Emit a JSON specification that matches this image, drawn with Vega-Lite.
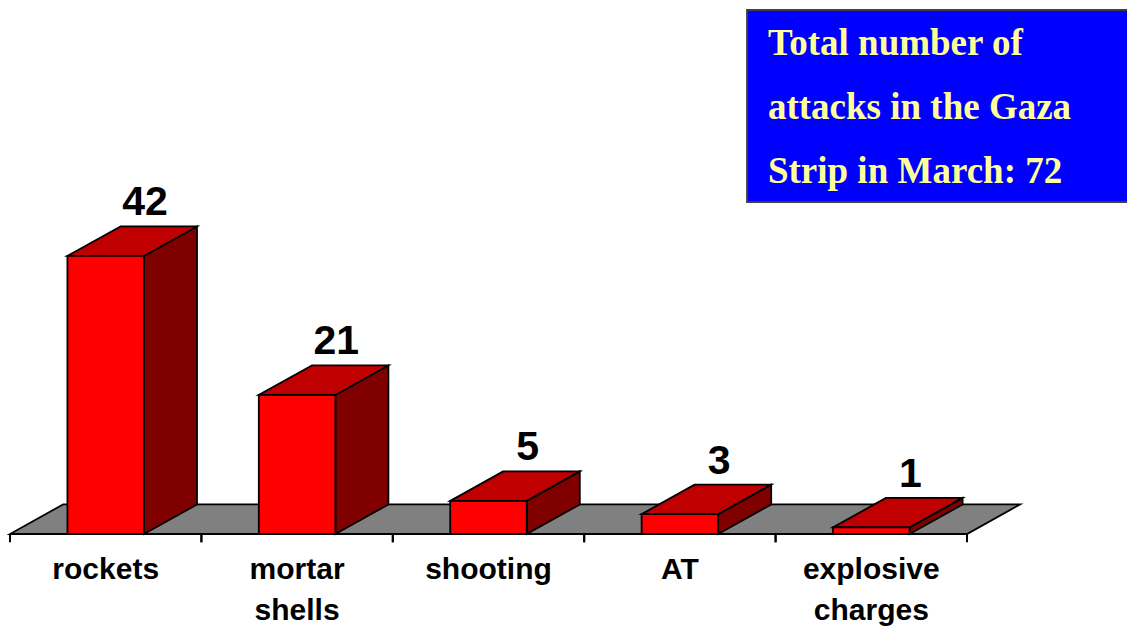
{
  "$schema": "https://vega.github.io/schema/vega-lite/v6.json",
  "width": 1117,
  "height": 534,
  "autosize": {"type": "none"},
  "padding": {"left": 10, "top": 0, "right": 0, "bottom": 96},
  "background": "white",
  "config": {"view": {"stroke": null}},
  "data": {
    "values": [
      {"category": "rockets", "value": 42},
      {"category": "mortar shells", "value": 21},
      {"category": "shooting", "value": 5},
      {"category": "AT", "value": 3},
      {"category": "explosive charges", "value": 1}
    ]
  },
  "layer": [
    {
      "transform": [
        {"aggregate": [{"op": "count", "as": "n"}]},
        {"calculate": "[0, 4.46]", "as": "fy"},
        {"calculate": "[0, 0.277]", "as": "fx"},
        {"calculate": "[datum.n, datum.n + 0.277]", "as": "fx2"},
        {"flatten": ["fy", "fx", "fx2"]}
      ],
      "mark": {"type": "area", "orient": "horizontal", "fill": "#808080", "stroke": "black", "strokeWidth": 1.8, "strokeJoin": "miter"},
      "encoding": {
        "y": {"field": "fy", "type": "quantitative", "scale": {"domain": [0, 80.66], "nice": false, "zero": false}, "axis": null},
        "x": {"field": "fx", "type": "quantitative", "scale": {"domain": [0, 5.836], "nice": false, "zero": false}, "axis": null},
        "x2": {"field": "fx2"}
      }
    },
    {
      "transform": [
        {"window": [{"op": "row_number", "as": "idx"}]},
        {"calculate": "[datum.idx - 1, datum.idx]", "as": "tk"},
        {"flatten": ["tk"]}
      ],
      "mark": {"type": "rule", "stroke": "black", "strokeWidth": 2},
      "encoding": {
        "x": {"field": "tk", "type": "quantitative", "scale": {"domain": [0, 5.836], "nice": false, "zero": false}, "axis": null},
        "y": {"datum": 0, "type": "quantitative", "scale": {"domain": [0, 80.66], "nice": false, "zero": false}, "axis": null},
        "y2": {"datum": -1.25}
      }
    },
    {
      "transform": [
        {"window": [{"op": "row_number", "as": "idx"}]},
        {"calculate": "[datum.idx - 0.3, datum.idx - 0.3 + 0.277]", "as": "sx"},
        {"calculate": "[0, 4.46]", "as": "sy"},
        {"calculate": "[datum.value, datum.value + 4.46]", "as": "sy2"},
        {"flatten": ["sx", "sy", "sy2"]}
      ],
      "mark": {"type": "area", "orient": "vertical", "fill": "#800000", "stroke": "black", "strokeWidth": 1.8},
      "encoding": {
        "x": {"field": "sx", "type": "quantitative", "scale": {"domain": [0, 5.836], "nice": false, "zero": false}, "axis": null},
        "y": {"field": "sy", "type": "quantitative", "scale": {"domain": [0, 80.66], "nice": false, "zero": false}, "axis": null},
        "y2": {"field": "sy2"},
        "detail": {"field": "category", "type": "nominal"}
      }
    },
    {
      "transform": [
        {"window": [{"op": "row_number", "as": "idx"}]},
        {"calculate": "[datum.value, datum.value + 4.46]", "as": "ty"},
        {"calculate": "[datum.idx - 0.7, datum.idx - 0.7 + 0.277]", "as": "tx"},
        {"calculate": "[datum.idx - 0.3, datum.idx - 0.3 + 0.277]", "as": "tx2"},
        {"flatten": ["ty", "tx", "tx2"]}
      ],
      "mark": {"type": "area", "orient": "horizontal", "fill": "#C00000", "stroke": "black", "strokeWidth": 1.8},
      "encoding": {
        "y": {"field": "ty", "type": "quantitative", "scale": {"domain": [0, 80.66], "nice": false, "zero": false}, "axis": null},
        "x": {"field": "tx", "type": "quantitative", "scale": {"domain": [0, 5.836], "nice": false, "zero": false}, "axis": null},
        "x2": {"field": "tx2"},
        "detail": {"field": "category", "type": "nominal"}
      }
    },
    {
      "transform": [
        {"window": [{"op": "row_number", "as": "idx"}]},
        {"calculate": "datum.idx - 0.7", "as": "xa"},
        {"calculate": "datum.idx - 0.3", "as": "xb"}
      ],
      "mark": {"type": "rect", "fill": "#FF0000", "stroke": "black", "strokeWidth": 1.8},
      "encoding": {
        "x": {"field": "xa", "type": "quantitative", "scale": {"domain": [0, 5.836], "nice": false, "zero": false}, "axis": null},
        "x2": {"field": "xb"},
        "y": {"field": "value", "type": "quantitative", "scale": {"domain": [0, 80.66], "nice": false, "zero": false}, "axis": null},
        "y2": {"datum": 0}
      }
    },
    {
      "transform": [
        {"window": [{"op": "row_number", "as": "idx"}]},
        {"calculate": "datum.idx - 0.295", "as": "lx"},
        {"calculate": "datum.value + 4.46", "as": "ly"}
      ],
      "mark": {"type": "text", "align": "center", "baseline": "alphabetic", "dy": -11, "font": "Liberation Sans", "fontWeight": "bold", "fontSize": 41, "fill": "black"},
      "encoding": {
        "x": {"field": "lx", "type": "quantitative", "scale": {"domain": [0, 5.836], "nice": false, "zero": false}, "axis": null},
        "y": {"field": "ly", "type": "quantitative", "scale": {"domain": [0, 80.66], "nice": false, "zero": false}, "axis": null},
        "text": {"field": "value", "type": "quantitative"}
      }
    },
    {
      "transform": [
        {"window": [{"op": "row_number", "as": "idx"}]},
        {"calculate": "datum.idx - 0.5", "as": "cx"},
        {"calculate": "split(datum.category, ' ')", "as": "lines"}
      ],
      "mark": {"type": "text", "align": "center", "baseline": "alphabetic", "dy": 45, "lineHeight": 41, "font": "Liberation Sans", "fontWeight": "bold", "fontSize": 30, "fill": "black"},
      "encoding": {
        "x": {"field": "cx", "type": "quantitative", "scale": {"domain": [0, 5.836], "nice": false, "zero": false}, "axis": null},
        "y": {"datum": 0, "type": "quantitative", "scale": {"domain": [0, 80.66], "nice": false, "zero": false}, "axis": null},
        "text": {"field": "lines"}
      }
    },
    {
      "transform": [
        {"aggregate": [{"op": "sum", "field": "value", "as": "total"}]},
        {"calculate": "['Total number of', 'attacks in the Gaza', 'Strip in March: ' + datum.total]", "as": "lines"}
      ],
      "layer": [
        {
          "mark": {"type": "rect", "fill": "#0000FF", "stroke": "#404040", "strokeWidth": 2},
          "encoding": {
            "x": {"datum": 3.851, "type": "quantitative", "scale": {"domain": [0, 5.836], "nice": false, "zero": false}, "axis": null},
            "x2": {"datum": 6.2},
            "y": {"datum": 79.15, "type": "quantitative", "scale": {"domain": [0, 80.66], "nice": false, "zero": false}, "axis": null},
            "y2": {"datum": 50.15}
          }
        },
        {
          "mark": {"type": "text", "align": "left", "baseline": "alphabetic", "lineHeight": 64, "font": "Liberation Serif", "fontWeight": "bold", "fontSize": 37, "fill": "#FFFF99"},
          "encoding": {
            "x": {"datum": 3.96, "type": "quantitative", "scale": {"domain": [0, 5.836], "nice": false, "zero": false}, "axis": null},
            "y": {"datum": 72.36, "type": "quantitative", "scale": {"domain": [0, 80.66], "nice": false, "zero": false}, "axis": null},
            "text": {"field": "lines"}
          }
        }
      ]
    }
  ]
}
